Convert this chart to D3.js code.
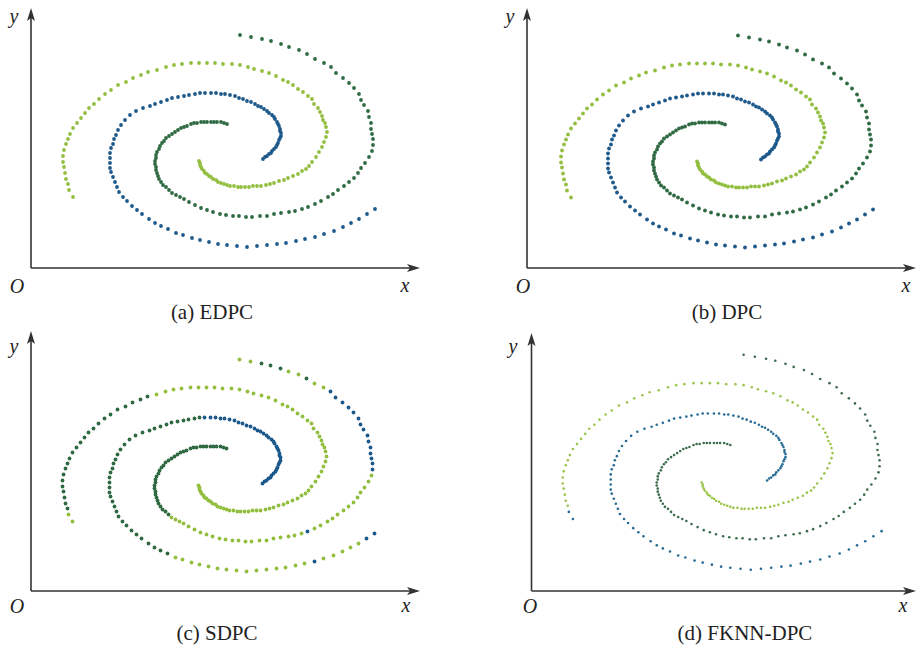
<!DOCTYPE html>
<html>
<head>
<meta charset="utf-8">
<script src="https://cdn.jsdelivr.net/npm/d3@7/dist/d3.min.js"></script>
<style>
  html, body { margin: 0; padding: 0; background: #fff; }
  svg { display: block; }
</style>
</head>
<body>
<svg id="chart" width="920" height="649"></svg>
<script>
// Three-arm spiral data set, each arm listed from its inner tip outward.
const armA = [
  [23.2,10.9],[23.4,11.1],[23.6,11.2],[23.8,11.4],[24.0,11.5],[24.1,11.7],[24.3,11.9],[24.5,12.1],[24.6,12.3],[24.7,12.5],
  [24.8,12.8],[24.9,13.0],[25.0,13.2],[25.0,13.5],[24.9,13.7],[24.9,13.9],[24.8,14.2],[24.7,14.4],[24.6,14.6],[24.4,14.9],
  [24.3,15.1],[24.1,15.3],[23.8,15.5],[23.6,15.7],[23.3,15.9],[23.0,16.1],[22.7,16.2],[22.4,16.4],[22.0,16.6],[21.6,16.7],
  [21.2,16.9],[20.8,17.0],[20.4,17.2],[19.9,17.3],[19.4,17.4],[19.0,17.4],[18.5,17.5],[18.0,17.5],[17.4,17.5],[16.9,17.5],
  [16.4,17.4],[15.8,17.3],[15.3,17.2],[14.7,17.1],[14.1,17.0],[13.6,16.8],[13.0,16.6],[12.4,16.4],[11.9,16.2],[11.2,16.0],
  [10.5,15.7],[9.9,15.3],[9.4,14.8],[9.0,14.3],[8.7,13.8],[8.5,13.3],[8.3,12.9],[8.2,12.4],[8.0,12.0],[7.9,11.5],
  [7.9,11.0],[7.9,10.5],[7.9,10.0],[8.0,9.6],[8.2,9.1],[8.4,8.6],[8.6,8.1],[8.8,7.6],[9.2,7.1],[9.6,6.7],
  [10.1,6.2],[10.6,5.8],[11.1,5.4],[11.8,4.9],[12.4,4.5],[13.0,4.2],[13.7,3.9],[14.5,3.5],[15.2,3.3],[16.1,3.0],
  [16.9,2.8],[17.8,2.6],[18.7,2.4],[19.6,2.3],[20.6,2.2],[21.6,2.1],[22.6,2.2],[23.6,2.3],[24.6,2.4],[25.5,2.5],
  [26.5,2.7],[27.4,2.9],[28.4,3.1],[29.3,3.4],[30.3,3.7],[31.2,4.1],[32.0,4.5],[32.8,4.9],[33.6,5.4],[34.4,5.9]
];
const armB = [
  [19.6,14.4],[19.3,14.5],[19.0,14.6],[18.6,14.6],[18.3,14.6],[18.0,14.6],[17.6,14.6],[17.3,14.6],[17.0,14.6],[16.6,14.5],
  [16.3,14.5],[16.0,14.4],[15.6,14.2],[15.3,14.1],[15.0,14.0],[14.7,13.8],[14.4,13.6],[14.1,13.4],[13.8,13.2],[13.5,13.0],
  [13.3,12.7],[13.1,12.5],[12.9,12.2],[12.8,11.9],[12.6,11.6],[12.5,11.3],[12.5,11.0],[12.4,10.7],[12.4,10.4],[12.5,10.1],
  [12.5,9.8],[12.6,9.5],[12.7,9.2],[12.8,8.9],[13.0,8.6],[13.2,8.3],[13.5,8.1],[13.8,7.8],[14.1,7.5],[14.5,7.3],
  [14.9,7.1],[15.3,6.9],[15.8,6.6],[16.4,6.3],[17.0,6.0],[17.6,5.8],[18.2,5.6],[18.9,5.4],[19.5,5.3],[20.2,5.2],
  [20.8,5.2],[21.5,5.1],[22.1,5.1],[22.9,5.2],[23.6,5.2],[24.3,5.4],[25.0,5.5],[25.8,5.6],[26.4,5.7],[27.1,5.9],
  [27.7,6.1],[28.4,6.4],[29.0,6.7],[29.7,7.1],[30.2,7.4],[30.7,7.8],[31.3,8.2],[31.8,8.6],[32.3,9.0],[32.7,9.5],
  [33.0,10.0],[33.4,10.5],[33.8,11.1],[34.1,11.7],[34.2,12.3],[34.2,12.9],[34.1,13.4],[34.0,13.9],[34.0,14.5],[33.8,15.1],
  [33.7,15.7],[33.3,16.3],[33.0,16.8],[32.8,17.4],[32.3,18.0],[31.8,18.5],[31.2,19.0],[30.5,19.5],[30.0,20.1],[29.3,20.5],
  [28.4,20.9],[27.6,21.4],[26.8,21.8],[25.8,22.1],[25.0,22.4],[24.0,22.7],[23.1,22.9],[22.0,23.1],[20.9,23.3]
];
const armC = [
  [16.8,10.7],[16.9,10.5],[16.9,10.3],[17.0,10.1],[17.1,9.9],[17.3,9.7],[17.4,9.5],[17.6,9.4],[17.8,9.2],[18.0,9.1],
  [18.2,8.9],[18.5,8.8],[18.7,8.6],[19.0,8.5],[19.3,8.4],[19.6,8.3],[19.9,8.2],[20.3,8.2],[20.7,8.1],[21.0,8.1],
  [21.4,8.1],[21.8,8.1],[22.2,8.2],[22.6,8.2],[23.0,8.2],[23.5,8.3],[23.9,8.4],[24.3,8.5],[24.8,8.7],[25.3,8.8],
  [25.7,9.0],[26.2,9.2],[26.7,9.4],[27.1,9.7],[27.5,9.9],[27.8,10.2],[28.1,10.6],[28.5,11.1],[28.8,11.6],[29.1,12.1],
  [29.3,12.6],[29.5,13.1],[29.6,13.6],[29.5,14.1],[29.4,14.5],[29.2,14.8],[29.1,15.2],[28.9,15.6],[28.7,16.0],[28.3,16.4],
  [28.1,16.9],[27.7,17.2],[27.2,17.6],[26.7,17.9],[26.2,18.3],[25.7,18.6],[25.2,18.8],[24.5,19.2],[23.8,19.5],[23.1,19.7],
  [22.3,19.9],[21.7,20.1],[20.9,20.3],[20.1,20.4],[19.2,20.4],[18.4,20.5],[17.6,20.5],[16.8,20.5],[16.0,20.5],[15.1,20.4],
  [14.3,20.3],[13.5,20.1],[12.6,19.8],[11.7,19.6],[11.0,19.3],[10.2,19.0],[9.5,18.6],[8.7,18.3],[8.0,17.8],[7.4,17.4],
  [6.8,16.9],[6.3,16.4],[5.8,16.0],[5.4,15.5],[5.0,15.0],[4.6,14.5],[4.2,14.0],[3.9,13.4],[3.7,12.9],[3.5,12.4],
  [3.3,11.8],[3.2,11.2],[3.2,10.6],[3.3,10.1],[3.4,9.5],[3.5,8.9],[3.7,8.4],[3.8,7.8],[4.2,7.1]
];

// Cluster assignment of each arm per method, as runs: [first point index, cluster].
// Clusters: "b" blue, "d" dark green, "l" light green.
const edpcRuns  = { A: [[0,"b"]], B: [[0,"d"]], C: [[0,"l"]] };
const dpcRuns   = { A: [[0,"b"]], B: [[0,"d"]], C: [[0,"l"]] };
const sdpcRuns  = {
  A: [[0,"b"],[39,"d"],[77,"l"],[92,"b"],[93,"l"],[98,"b"]],
  B: [[0,"d"],[38,"l"],[60,"b"],[61,"l"],[74,"b"],[89,"l"],[91,"d"],[92,"l"],[94,"d"],[97,"l"]],
  C: [[0,"l"],[73,"d"],[97,"l"]]
};
const fknnRuns  = { A: [[0,"b"]], B: [[0,"d"]], C: [[0,"l"],[97,"b"]] };

const methodNames = ["(a) EDPC", "(b) DPC", "(c) SDPC", "(d) FKNN-DPC"];

// Panel geometry and styling
const panels = [
  { name: methodNames[0], runs: edpcRuns, ax: 31,  ay: 268, yTip: 8,   xTip: 420, x0: 31,  y0: 268,   kx: 10,    ky: 10,
    r: 1.9, pal: { b: "#1d5a8b", d: "#2f6a43", l: "#93bf40" },
    yLab: [14, 23], oLab: [17, 293], xLab: [405, 292], cap: [212, 319] },
  { name: methodNames[1], runs: dpcRuns,  ax: 527, ay: 268, yTip: 8,   xTip: 916, x0: 529, y0: 268.5, kx: 10,    ky: 10,
    r: 1.9, pal: { b: "#1d5a8b", d: "#2f6a43", l: "#93bf40" },
    yLab: [510, 23], oLab: [523, 293], xLab: [906, 292], cap: [727, 319] },
  { name: methodNames[2], runs: sdpcRuns, ax: 31,  ay: 591, yTip: 331, xTip: 420, x0: 30.5, y0: 592.5, kx: 10,   ky: 10,
    r: 1.9, pal: { b: "#1d5a8b", d: "#2f6a43", l: "#93bf40" },
    yLab: [14, 353], oLab: [17, 613], xLab: [406, 612], cap: [217, 640] },
  { name: methodNames[3], runs: fknnRuns, ax: 531.5, ay: 591, yTip: 333, xTip: 916, x0: 530, y0: 591, kx: 10.22, ky: 10.14,
    r: 1.3, pal: { b: "#276b95", d: "#3c6c4c", l: "#9bc54a" },
    yLab: [513, 353], oLab: [530, 613], xLab: [903, 612], cap: [745, 640] }
];

const svg = d3.select("#chart");
const axisColor = "#333";
const serif = "'Liberation Serif', 'Times New Roman', serif";

function labelsFor(runs, n) {
  const out = new Array(n);
  let k = 0;
  for (let i = 0; i < n; i++) {
    while (k + 1 < runs.length && runs[k + 1][0] <= i) k++;
    out[i] = runs[k][1];
  }
  return out;
}

panels.forEach(p => {
  const g = svg.append("g");
  const x = d3.scaleLinear().domain([0, 10]).range([p.x0, p.x0 + 10 * p.kx]);
  const y = d3.scaleLinear().domain([0, 10]).range([p.y0, p.y0 - 10 * p.ky]);

  // axes with arrowheads
  g.append("line").attr("x1", p.ax).attr("y1", p.ay).attr("x2", p.ax).attr("y2", p.yTip + 6)
    .attr("stroke", axisColor).attr("stroke-width", 1.6);
  g.append("line").attr("x1", p.ax).attr("y1", p.ay).attr("x2", p.xTip - 6).attr("y2", p.ay)
    .attr("stroke", axisColor).attr("stroke-width", 1.6);
  g.append("path")
    .attr("d", `M${p.ax},${p.yTip} L${p.ax - 4},${p.yTip + 13} L${p.ax},${p.yTip + 10} L${p.ax + 4},${p.yTip + 13} Z`)
    .attr("fill", axisColor);
  g.append("path")
    .attr("d", `M${p.xTip},${p.ay} L${p.xTip - 13},${p.ay - 4} L${p.xTip - 10},${p.ay} L${p.xTip - 13},${p.ay + 4} Z`)
    .attr("fill", axisColor);

  // points of every arm, coloured by their cluster
  const pts = [];
  [["A", armA], ["B", armB], ["C", armC]].forEach(([key, arm]) => {
    const lab = labelsFor(p.runs[key], arm.length);
    arm.forEach((d, i) => pts.push({ x: d[0], y: d[1], c: lab[i] }));
  });
  g.append("g").selectAll("circle").data(pts).join("circle")
    .attr("cx", d => x(d.x)).attr("cy", d => y(d.y)).attr("r", p.r)
    .attr("fill", d => p.pal[d.c]);

  // axis letters and caption
  g.append("text").attr("x", p.yLab[0]).attr("y", p.yLab[1]).attr("text-anchor", "middle")
    .attr("font-family", serif).attr("font-style", "italic").attr("font-size", 20).attr("fill", "#222").text("y");
  g.append("text").attr("x", p.oLab[0]).attr("y", p.oLab[1]).attr("text-anchor", "middle")
    .attr("font-family", serif).attr("font-style", "italic").attr("font-size", 20).attr("fill", "#222").text("O");
  g.append("text").attr("x", p.xLab[0]).attr("y", p.xLab[1]).attr("text-anchor", "middle")
    .attr("font-family", serif).attr("font-style", "italic").attr("font-size", 20).attr("fill", "#222").text("x");
  g.append("text").attr("x", p.cap[0]).attr("y", p.cap[1]).attr("text-anchor", "middle")
    .attr("font-family", serif).attr("font-size", 21).attr("fill", "#222").text(p.name);
});
</script>
</body>
</html>
